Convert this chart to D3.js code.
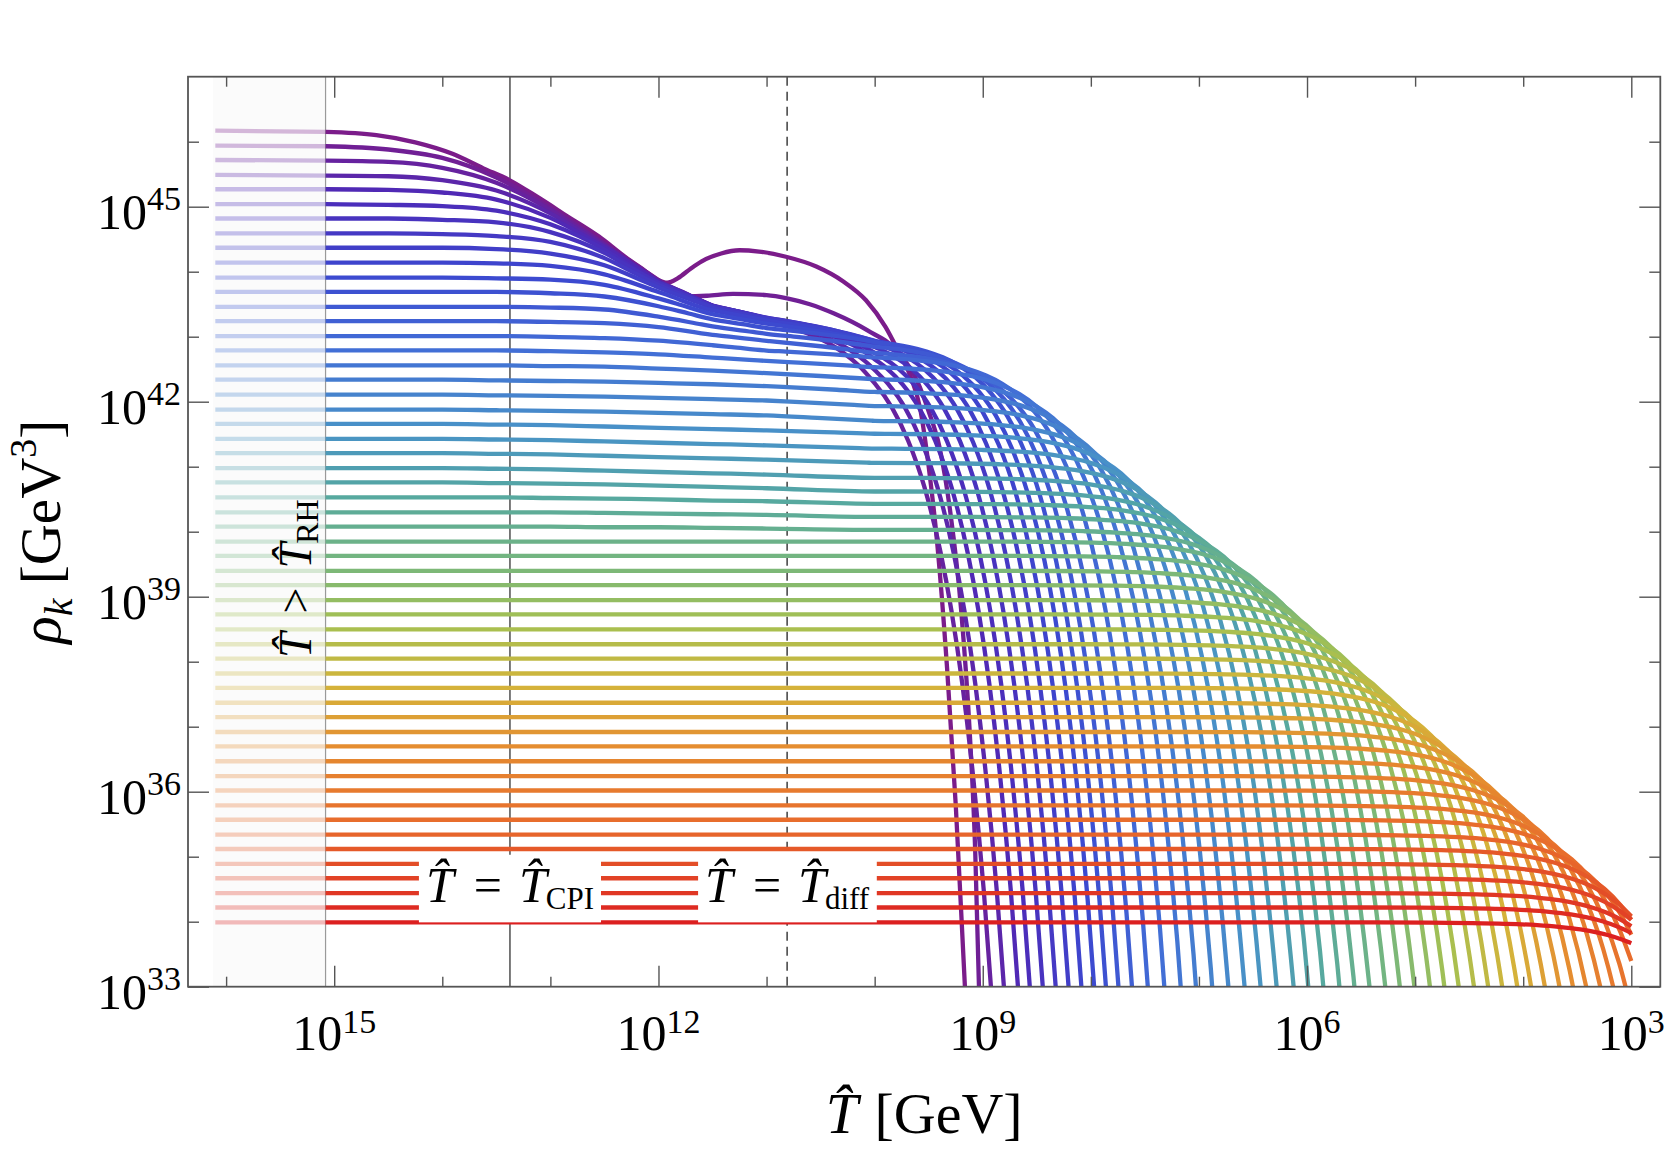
<!DOCTYPE html>
<html>
<head>
<meta charset="utf-8">
<script src="https://cdn.jsdelivr.net/npm/d3@7"></script>
<style>
  body { margin: 0; background: #fff; }
  svg text { font-family: "Liberation Serif", "Times New Roman", serif; fill: #000; }
</style>
</head>
<body>
<div id="chart"></div>
<script>
// log10(rho_k) plateau of each mode, top (purple) to bottom (red)
const levels = [46.17, 45.94, 45.72, 45.49, 45.27, 45.04, 44.82, 44.59, 44.37, 44.14,
    43.91, 43.69, 43.46, 43.24, 43.01, 42.79, 42.56, 42.34, 42.11, 41.88,
    41.66, 41.43, 41.21, 40.98, 40.76, 40.53, 40.30, 40.08, 39.85, 39.63,
    39.40, 39.18, 38.95, 38.73, 38.50, 38.27, 38.05, 37.82, 37.60, 37.37,
    37.15, 36.92, 36.70, 36.47, 36.24, 36.02, 35.79, 35.57, 35.34, 35.12,
    34.89, 34.67, 34.44, 34.22, 33.99];

// log10(T) where each mode gets suppressed
const cutoffs = [10.55, 10.42, 10.29, 10.17, 10.04, 9.93, 9.81, 9.69, 9.57, 9.45,
    9.33, 9.22, 9.10, 8.97, 8.82, 8.66, 8.50, 8.35, 8.19, 8.03,
    7.87, 7.71, 7.55, 7.38, 7.23, 7.08, 6.92, 6.77, 6.62, 6.46,
    6.31, 6.16, 6.00, 5.85, 5.70, 5.54, 5.39, 5.24, 5.08, 4.93,
    4.78, 4.62, 4.47, 4.32, 4.16, 4.01, 3.86, 3.70, 3.55, 3.40,
    3.27, 3.17, 3.07, 2.96, 2.87];

// shape of the drop near the cutoff: offset in log10(T), drop in log10(rho)
const kneeD = [2.5, 2.0, 1.6, 1.3, 1.0, 0.8, 0.6, 0.45, 0.3, 0.15, 0, -0.15, -0.3, -0.45,
    -0.6, -0.75, -0.9, -1.0, -1.1, -1.2, -1.3, -1.4, -1.5, -1.6];
const kneeDrop = [0.0014, 0.0043, 0.011, 0.022, 0.043, 0.069, 0.109, 0.154, 0.217, 0.307,
    0.434, 0.613, 0.866, 1.22, 1.73, 2.44, 3.45, 4.34, 5.46, 6.88, 8.66, 10.9, 13.7, 17.3];

// modes 2..27 bend down before T_diff (values at gridT)
const gridT = [15.1, 14.5, 14.0, 13.5, 13.0, 12.5, 12.0, 11.5, 11.0, 10.0];
const upperKnots = [
    [45.71, 45.69, 45.60, 45.37, 44.95, 44.42, 43.86, 43.50, 43.33, 43.13],
    [45.48, 45.47, 45.41, 45.25, 44.90, 44.40, 43.86, 43.50, 43.33, 43.13],
    [45.27, 45.26, 45.22, 45.11, 44.83, 44.38, 43.85, 43.49, 43.33, 43.13],
    [45.04, 45.03, 45.01, 44.94, 44.73, 44.34, 43.84, 43.49, 43.32, 43.12],
    [44.82, 44.82, 44.80, 44.76, 44.61, 44.29, 43.83, 43.48, 43.32, 43.12],
    [44.59, 44.59, 44.58, 44.55, 44.46, 44.21, 43.80, 43.47, 43.31, 43.11],
    [44.37, 44.37, 44.37, 44.35, 44.28, 44.10, 43.76, 43.45, 43.29, 43.09],
    [44.14, 44.14, 44.14, 44.13, 44.09, 43.96, 43.69, 43.41, 43.26, 43.06],
    [43.91, 43.91, 43.91, 43.90, 43.88, 43.80, 43.59, 43.35, 43.21, 43.01],
    [43.69, 43.69, 43.69, 43.69, 43.67, 43.62, 43.47, 43.27, 43.14, 42.99],
    [43.46, 43.46, 43.46, 43.46, 43.45, 43.42, 43.31, 43.16, 43.05, 42.90],
    [43.24, 43.24, 43.24, 43.24, 43.23, 43.21, 43.15, 43.03, 42.94, 42.79],
    [43.01, 43.01, 43.01, 43.01, 43.00, 42.98, 42.94, 42.87, 42.79, 42.71],
    [42.79, 42.79, 42.79, 42.79, 42.78, 42.76, 42.73, 42.68, 42.63, 42.55],
    [42.56, 42.56, 42.56, 42.56, 42.55, 42.54, 42.51, 42.48, 42.44, 42.36],
    [42.34, 42.34, 42.34, 42.33, 42.32, 42.31, 42.29, 42.27, 42.24, 42.16],
    [42.11, 42.11, 42.11, 42.10, 42.09, 42.08, 42.06, 42.04, 42.02, 41.94],
    [41.88, 41.88, 41.88, 41.87, 41.86, 41.85, 41.83, 41.81, 41.79, 41.71],
    [41.66, 41.66, 41.66, 41.65, 41.64, 41.62, 41.60, 41.58, 41.56, 41.51],
    [41.43, 41.43, 41.43, 41.42, 41.41, 41.39, 41.37, 41.35, 41.33, 41.28],
    [41.21, 41.21, 41.21, 41.20, 41.19, 41.17, 41.15, 41.13, 41.11, 41.06],
    [40.98, 40.98, 40.98, 40.97, 40.96, 40.94, 40.92, 40.90, 40.88, 40.83],
    [40.76, 40.76, 40.76, 40.75, 40.74, 40.73, 40.71, 40.69, 40.67, 40.62],
    [40.53, 40.53, 40.53, 40.53, 40.52, 40.51, 40.50, 40.48, 40.47, 40.43],
    [40.30, 40.30, 40.30, 40.30, 40.30, 40.29, 40.28, 40.27, 40.26, 40.23],
    [40.08, 40.08, 40.08, 40.08, 40.08, 40.07, 40.07, 40.06, 40.05, 40.03]
];

// the two top modes with a bump, [log10 T, log10 rho]
const mode0 = [[16.1, 46.17], [15.08, 46.15], [14.61, 46.10], [14.25, 45.99], [13.9, 45.81],
    [13.62, 45.59], [13.38, 45.41], [13.12, 45.15], [12.84, 44.85], [12.55, 44.54],
    [12.31, 44.23], [12.13, 44.02], [12.0, 43.87], [11.92, 43.83], [11.82, 43.9],
    [11.7, 44.05], [11.6, 44.16], [11.42, 44.28], [11.25, 44.33], [11.07, 44.31],
    [10.82, 44.23], [10.54, 44.08], [10.29, 43.85], [10.08, 43.56], [9.9, 43.15],
    [9.77, 42.74], [9.67, 42.4], [9.58, 41.9], [9.5, 41.0], [9.42, 39.8], [9.33, 37.9],
    [9.25, 35.8], [9.165, 33.0], [9.1, 31.0]];
const mode1 = [[16.1, 45.94], [15.08, 45.93], [14.5, 45.88], [14.0, 45.75], [13.5, 45.45],
    [13.0, 44.98], [12.5, 44.43], [12.0, 43.87], [11.85, 43.70], [11.74, 43.62],
    [11.55, 43.63], [11.31, 43.66], [11.0, 43.64], [10.81, 43.59], [10.6, 43.5],
    [10.38, 43.36], [10.07, 43.10], [9.77, 42.74], [9.61, 42.33], [9.5, 41.85],
    [9.4, 41.3], [9.3, 40.3], [9.2, 38.8], [9.12, 36.9], [9.07, 35.1], [9.035, 33.0],
    [9.0, 31.5]];

const T_START = 16.1, T_RH = 15.08, T_CPI = 13.374, T_DIFF = 10.81, T_END = 3;
const shadeT = [16.12, 15.08];
const labelBox = [35.03, 33.99];   // log10 rho of box top / bottom
const labelBase = 34.3;

const xMajor = [15, 12, 9, 6, 3];
const xMinor = [16, 14, 13, 11, 10, 8, 7, 5, 4];
const yMajor = [33, 36, 39, 42, 45];
const yMinor = [34, 35, 37, 38, 40, 41, 43, 44, 46];

const colorStops = [0, 0.08, 0.18, 0.28, 0.38, 0.46, 0.54, 0.62, 0.70, 0.78, 0.88, 1];
const colorValues = ["#7b1c8a", "#4d2ab8", "#3c48d0", "#4270d6", "#4993c6", "#56a8a0",
    "#74b680", "#a4c052", "#d4b43a", "#e58c30", "#e86a2c", "#dc2020"];

const W = 1667, H = 1161;
const plot = { left: 188, right: 1660.3, top: 76.7, bottom: 986.7 };

const x = d3.scaleLog().domain([10 ** 16.3526, 10 ** 2.7317]).range([plot.left, plot.right]);
const y = d3.scaleLog().domain([1e33, 1e47]).range([plot.bottom, plot.top]);
const color = d3.scaleLinear().domain(colorStops).range(colorValues).interpolate(d3.interpolateRgb);

const dropScale = d3.scaleLinear().domain(kneeD).range(kneeDrop.map(Math.log10)).clamp(true);
const drop = d => 10 ** dropScale(d);

function modeSeries(k) {
    if (k === 0) return mode0;
    if (k === 1) return mode1;
    const knots = upperKnots[k - 2];
    const base = knots ? d3.scaleLinear().domain(gridT).range(knots).clamp(true) : null;
    const lv = t => (base && t <= gridT[0]) ? base(t) : levels[k];
    let ts = [T_START, T_RH, T_END];
    if (knots) ts = ts.concat(gridT);
    kneeD.forEach(d => ts.push(cutoffs[k] + d));
    ts = Array.from(new Set(ts.map(t => +t.toFixed(3))))
        .filter(t => t <= T_START && t >= T_END)
        .sort((a, b) => b - a);
    const pts = [];
    for (const t of ts) {
        const v = lv(t) - drop(t - cutoffs[k]);
        pts.push([t, v]);
        if (v < 32) break;
    }
    return pts;
}

const svg = d3.select("#chart").append("svg")
    .attr("width", W)
    .attr("height", H);

svg.append("defs").append("clipPath").attr("id", "plotClip")
    .append("rect")
    .attr("x", plot.left).attr("y", plot.top)
    .attr("width", plot.right - plot.left).attr("height", plot.bottom - plot.top);

// shaded T > T_RH region
svg.append("rect")
    .attr("x", x(10 ** shadeT[0]))
    .attr("y", plot.top)
    .attr("width", x(10 ** shadeT[1]) - x(10 ** shadeT[0]))
    .attr("height", plot.bottom - plot.top)
    .attr("fill", "#fbfbfb");

// reference temperatures
const refLine = (t, stroke, width, dash) => svg.append("line")
    .attr("x1", x(10 ** t)).attr("x2", x(10 ** t))
    .attr("y1", plot.top).attr("y2", plot.bottom)
    .attr("stroke", stroke).attr("stroke-width", width)
    .attr("stroke-dasharray", dash);
refLine(T_RH, "#9a9a9a", 1.2, null);
refLine(T_CPI, "#333", 1.3, null);
refLine(T_DIFF, "#222", 1.3, "9,6");

const line = d3.line()
    .x(d => x(10 ** d[0]))
    .y(d => y(10 ** d[1]))
    .curve(d3.curveMonotoneX);

const curves = svg.append("g").attr("clip-path", "url(#plotClip)");
levels.forEach((lv, k) => {
    const pts = modeSeries(k);
    const c = color(k / (levels.length - 1));
    const light = pts.filter(p => p[0] >= T_RH);
    const main = pts.filter(p => p[0] <= T_RH);
    curves.append("path")
        .attr("d", line(light))
        .attr("fill", "none")
        .attr("stroke", c)
        .attr("stroke-opacity", 0.3)
        .attr("stroke-width", 4.3);
    curves.append("path")
        .attr("d", line(main))
        .attr("fill", "none")
        .attr("stroke", c)
        .attr("stroke-width", 4.3);
});

function rich(sel, parts) {
    parts.forEach(p => {
        const s = sel.append("tspan").text(p.t);
        if (p.it) s.attr("font-style", "italic");
        if (p.fs) s.attr("font-size", p.fs);
        if (p.dx) s.attr("dx", p.dx);
        if (p.dy) s.attr("dy", p.dy);
    });
    return sel;
}

const That = "T\u0302";

// boxed labels at T_CPI and T_diff
function boxLabel(t, sub) {
    const cx = x(10 ** t);
    const g = svg.append("g");
    const rect = g.append("rect").attr("fill", "#fff");
    const txt = g.append("text")
        .attr("x", cx)
        .attr("y", y(10 ** labelBase))
        .attr("text-anchor", "middle")
        .attr("font-size", 50);
    rich(txt, [
        { t: That, it: true },
        { t: "=", dx: 20 },
        { t: That, it: true, dx: 17 },
        { t: sub, fs: 31, dx: -1, dy: 7 }
    ]);
    const bb = txt.node().getBBox();
    rect.attr("x", bb.x - 7).attr("width", bb.width + 14)
        .attr("y", y(10 ** labelBox[0]))
        .attr("height", y(10 ** labelBox[1]) - y(10 ** labelBox[0]));
}
boxLabel(T_CPI, "CPI");
boxLabel(T_DIFF, "diff");

// rotated label inside the shaded band
const rh = svg.append("text")
    .attr("transform", `translate(311,${(plot.top + plot.bottom) / 2 + 47}) rotate(-90)`)
    .attr("text-anchor", "middle")
    .attr("font-size", 46);
rich(rh, [
    { t: That, it: true },
    { t: ">", dx: 19 },
    { t: That, it: true, dx: 19 },
    { t: "RH", fs: 32, dx: -1, dy: 7 }
]);

// frame and ticks
const tickStyle = g => {
    g.select(".domain").remove();
    g.selectAll(".tick line").attr("stroke", "#555").attr("stroke-width", 1.4);
    g.selectAll(".tick text").remove();
};
const addAxis = (axisFn, scale, vals, size, tx, ty) => svg.append("g")
    .attr("transform", `translate(${tx},${ty})`)
    .call(axisFn(scale).tickValues(vals.map(v => 10 ** v)).tickSize(-size).tickSizeOuter(0))
    .call(tickStyle);

[[xMajor, 21], [xMinor, 10]].forEach(([vals, size]) => {
    addAxis(d3.axisBottom, x, vals, size, 0, plot.bottom);
    addAxis(d3.axisTop, x, vals, size, 0, plot.top);
});
[[yMajor, 21], [yMinor, 11]].forEach(([vals, size]) => {
    addAxis(d3.axisLeft, y, vals, size, plot.left, 0);
    addAxis(d3.axisRight, y, vals, size, plot.right, 0);
});

svg.append("rect")
    .attr("x", plot.left).attr("y", plot.top)
    .attr("width", plot.right - plot.left).attr("height", plot.bottom - plot.top)
    .attr("fill", "none")
    .attr("stroke", "#555")
    .attr("stroke-width", 1.8);

// tick labels
xMajor.forEach(p => {
    const t = svg.append("text")
        .attr("x", x(10 ** p))
        .attr("y", plot.bottom + 63)
        .attr("text-anchor", "middle")
        .attr("font-size", 50);
    rich(t, [{ t: "10" }, { t: String(p), fs: 34, dy: -17 }]);
});
yMajor.forEach(p => {
    const t = svg.append("text")
        .attr("x", plot.left - 7)
        .attr("y", y(10 ** p) + 22)
        .attr("text-anchor", "end")
        .attr("font-size", 50);
    rich(t, [{ t: "10" }, { t: String(p), fs: 34, dy: -19 }]);
});

// axis titles
const xt = svg.append("text")
    .attr("x", (plot.left + plot.right) / 2)
    .attr("y", 1133)
    .attr("text-anchor", "middle")
    .attr("font-size", 58);
rich(xt, [
    { t: That, it: true },
    { t: " [GeV]", dx: 2 }
]);

const yt = svg.append("text")
    .attr("transform", `translate(60,${(plot.top + plot.bottom) / 2}) rotate(-90)`)
    .attr("text-anchor", "middle")
    .attr("font-size", 57);
rich(yt, [
    { t: "\u03C1", it: true },
    { t: "k", it: true, fs: 40, dy: 12 },
    { t: " [GeV", dy: -12 },
    { t: "3", fs: 38, dy: -24 },
    { t: "]", dy: 24 }
]);
</script>
</body>
</html>
